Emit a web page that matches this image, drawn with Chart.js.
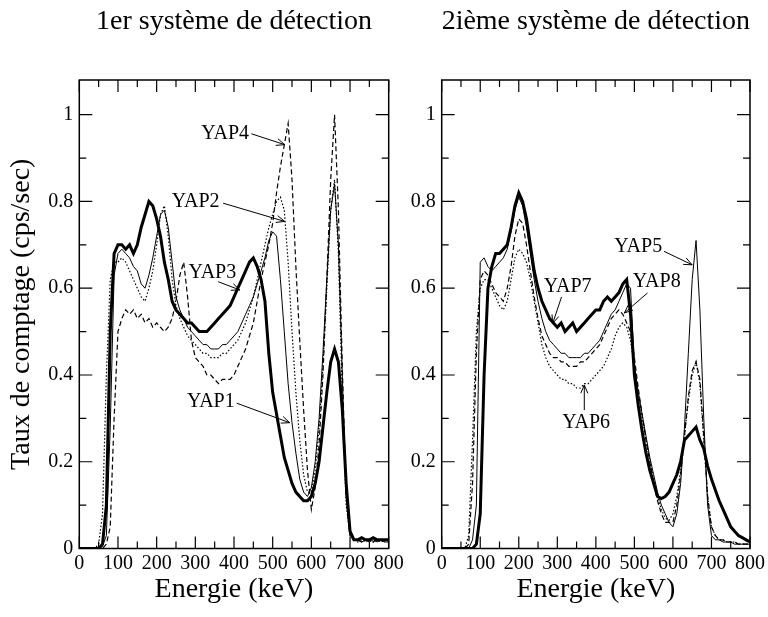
<!DOCTYPE html>
<html>
<head>
<meta charset="utf-8">
<script src="https://cdn.jsdelivr.net/npm/chart.js@4.4.1/dist/chart.umd.min.js"></script>
<style>
  body { margin: 0; background: #fff; }
  #wrap { position: relative; width: 768px; height: 617px; overflow: hidden; }
  #left { position: absolute; left: 0; top: 0; }
  #right { position: absolute; left: 400px; top: 0; }
</style>
</head>
<body>
<div id="wrap">
  <canvas id="left" width="420" height="617"></canvas>
  <canvas id="right" width="368" height="617"></canvas>
</div>
<script>
// Energie (keV), pas de 10 keV
const energies = [];
for (let e = 0; e <= 800; e += 10) energies.push(e);

const energyTicks = [0, 50, 100, 150, 200, 250, 300, 350, 400, 450, 500, 550, 600, 650, 700, 750, 800];
const countTicks = [0, 0.1, 0.2, 0.3, 0.4, 0.5, 0.6, 0.7, 0.8, 0.9, 1.0];

// 1er système de détection
const yap1 = [
  0, 0, 0, 0, 0, 0, 0.005, 0.03, 0.28, 0.63,
  0.68, 0.69, 0.68, 0.67, 0.65, 0.64, 0.61, 0.60, 0.63, 0.67,
  0.72, 0.77, 0.78, 0.74, 0.66, 0.58, 0.55, 0.53, 0.51, 0.50,
  0.49, 0.48, 0.47, 0.47, 0.46, 0.46, 0.46, 0.47, 0.47, 0.48,
  0.49, 0.50, 0.52, 0.54, 0.56, 0.58, 0.61, 0.64, 0.67, 0.71,
  0.73, 0.72, 0.62, 0.50, 0.38, 0.29, 0.22, 0.16, 0.13, 0.12,
  0.14, 0.20, 0.30, 0.45, 0.62, 0.78, 0.84, 0.70, 0.40, 0.12,
  0.03, 0.02, 0.02, 0.015, 0.02, 0.015, 0.02, 0.015, 0.02, 0.015,
  0.015
];
const yap2 = [
  0, 0, 0, 0, 0, 0.01, 0.08, 0.40, 0.62, 0.66,
  0.66, 0.67, 0.66, 0.64, 0.62, 0.60, 0.58, 0.57, 0.60, 0.64,
  0.70, 0.77, 0.79, 0.72, 0.62, 0.56, 0.53, 0.51, 0.49, 0.48,
  0.47, 0.46, 0.45, 0.45, 0.44, 0.44, 0.44, 0.45, 0.45, 0.46,
  0.47, 0.48, 0.50, 0.52, 0.55, 0.58, 0.62, 0.66, 0.70, 0.74,
  0.77, 0.80, 0.81, 0.78, 0.66, 0.50, 0.36, 0.25, 0.17, 0.13,
  0.13, 0.18, 0.28, 0.42, 0.60, 0.78, 0.85, 0.68, 0.35, 0.10,
  0.03, 0.02, 0.015, 0.02, 0.015, 0.02, 0.015, 0.02, 0.015, 0.02,
  0.015
];
const yap3 = [
  0, 0, 0, 0, 0, 0, 0.01, 0.10, 0.50, 0.68,
  0.70, 0.70, 0.69, 0.70, 0.68, 0.70, 0.74, 0.77, 0.80, 0.79,
  0.76, 0.72, 0.66, 0.62, 0.57, 0.55, 0.54, 0.53, 0.52, 0.52,
  0.51, 0.50, 0.50, 0.50, 0.51, 0.52, 0.53, 0.54, 0.55, 0.56,
  0.58, 0.60, 0.62, 0.64, 0.66, 0.67, 0.65, 0.62, 0.57, 0.45,
  0.36, 0.31, 0.26, 0.21, 0.18, 0.15, 0.13, 0.12, 0.11, 0.11,
  0.12, 0.15, 0.20, 0.28, 0.36, 0.43, 0.46, 0.43, 0.32, 0.15,
  0.04, 0.02, 0.02, 0.025, 0.02, 0.02, 0.025, 0.02, 0.02, 0.02,
  0.02
];
const yap4 = [
  0, 0, 0, 0, 0, 0, 0, 0.01, 0.05, 0.30,
  0.50, 0.53, 0.55, 0.54, 0.55, 0.53, 0.54, 0.52, 0.53, 0.51,
  0.52, 0.51, 0.50, 0.51, 0.53, 0.57, 0.63, 0.66, 0.58, 0.48,
  0.44, 0.43, 0.42, 0.40, 0.40, 0.39, 0.38, 0.39, 0.39, 0.39,
  0.40, 0.42, 0.44, 0.46, 0.49, 0.52, 0.57, 0.62, 0.66, 0.70,
  0.75, 0.82, 0.88, 0.93, 0.98, 0.85, 0.65, 0.48, 0.32, 0.18,
  0.09, 0.14, 0.24, 0.40, 0.62, 0.85, 1.00, 0.78, 0.42, 0.12,
  0.03, 0.02, 0.02, 0.015, 0.02, 0.02, 0.015, 0.02, 0.02, 0.015,
  0.015
];

// 2ième système de détection
const yap5 = [
  0, 0, 0, 0, 0, 0, 0, 0, 0.02, 0.10,
  0.66, 0.67, 0.65, 0.64, 0.65, 0.66, 0.67, 0.69, 0.73, 0.78,
  0.81, 0.79, 0.74, 0.68, 0.62, 0.57, 0.53, 0.50, 0.48, 0.47,
  0.46, 0.45, 0.45, 0.44, 0.44, 0.44, 0.44, 0.45, 0.45, 0.46,
  0.47, 0.48, 0.50, 0.52, 0.54, 0.55, 0.57, 0.59, 0.61, 0.60,
  0.42, 0.36, 0.31, 0.26, 0.21, 0.17, 0.13, 0.10, 0.08, 0.06,
  0.05, 0.08, 0.15, 0.28, 0.45, 0.62, 0.71, 0.55, 0.30, 0.10,
  0.03, 0.02, 0.02, 0.015, 0.015, 0.015, 0.01, 0.01, 0.01, 0.01,
  0.01
];
const yap6 = [
  0, 0, 0, 0, 0, 0, 0, 0.03, 0.25, 0.50,
  0.60, 0.62, 0.62, 0.60, 0.58, 0.56, 0.55, 0.57, 0.62, 0.67,
  0.69, 0.68, 0.66, 0.62, 0.57, 0.52, 0.47, 0.44, 0.42, 0.41,
  0.40, 0.39, 0.39, 0.38, 0.38, 0.37, 0.37, 0.38, 0.38, 0.39,
  0.40, 0.41, 0.42, 0.44, 0.46, 0.49, 0.51, 0.52, 0.51, 0.48,
  0.42, 0.36, 0.30, 0.25, 0.20, 0.16, 0.12, 0.09, 0.07, 0.065,
  0.08, 0.12, 0.18, 0.26, 0.34, 0.40, 0.43, 0.38, 0.25, 0.12,
  0.05, 0.03, 0.02, 0.02, 0.015, 0.015, 0.015, 0.01, 0.01, 0.01,
  0.01
];
const yap7 = [
  0, 0, 0, 0, 0, 0, 0, 0, 0, 0.01,
  0.08, 0.40, 0.60, 0.65, 0.68, 0.68, 0.69, 0.70, 0.74, 0.79,
  0.82, 0.80, 0.76, 0.70, 0.64, 0.60, 0.57, 0.55, 0.53, 0.52,
  0.51, 0.52, 0.50, 0.51, 0.52, 0.50, 0.51, 0.52, 0.53, 0.54,
  0.55, 0.55, 0.57, 0.58, 0.57, 0.58, 0.59, 0.61, 0.62, 0.54,
  0.40, 0.33, 0.27, 0.22, 0.18, 0.15, 0.12, 0.115, 0.12, 0.13,
  0.15, 0.17, 0.20, 0.25, 0.26, 0.27, 0.28, 0.25, 0.23, 0.19,
  0.16, 0.135, 0.11, 0.09, 0.07, 0.05, 0.04, 0.03, 0.025, 0.02,
  0.015
];
const yap8 = [
  0, 0, 0, 0, 0, 0, 0, 0.01, 0.15, 0.45,
  0.62, 0.64, 0.63, 0.61, 0.59, 0.58, 0.57, 0.60, 0.65, 0.72,
  0.76, 0.75, 0.70, 0.64, 0.58, 0.53, 0.49, 0.47, 0.45, 0.44,
  0.44, 0.43, 0.43, 0.42, 0.42, 0.42, 0.43, 0.43, 0.44, 0.45,
  0.46, 0.47, 0.49, 0.51, 0.53, 0.54, 0.55, 0.54, 0.52, 0.50,
  0.44, 0.37, 0.31, 0.25, 0.20, 0.15, 0.11, 0.08, 0.06, 0.06,
  0.06, 0.10, 0.17, 0.26, 0.35, 0.41, 0.43, 0.39, 0.26, 0.12,
  0.05, 0.03, 0.02, 0.02, 0.015, 0.015, 0.015, 0.01, 0.01, 0.01,
  0.01
];

const serif = "'Liberation Serif', 'Times New Roman', serif";

const styles = {
  thin:   { borderWidth: 1,   borderDash: [] },
  dotted: { borderWidth: 1.2, borderDash: [1.5, 2] },
  thick:  { borderWidth: 3,   borderDash: [] },
  dashed: { borderWidth: 1.2, borderDash: [5, 3] }
};

function serie(label, values, style) {
  return Object.assign({
    label: label,
    data: energies.map((e, i) => ({ x: e, y: values[i] })),
    borderColor: '#000',
    pointRadius: 0,
    tension: 0,
    fill: false
  }, styles[style]);
}

// étiquettes YAP avec flèches (coordonnées en keV / cps)
const leftNotes = [
  { text: 'YAP4', at: [377, 0.956], from: [445, 0.956], to: [531, 0.931] },
  { text: 'YAP2', at: [301, 0.800], from: [372, 0.796], to: [531, 0.754] },
  { text: 'YAP3', at: [344, 0.636], from: [359, 0.615], to: [415, 0.596] },
  { text: 'YAP1', at: [340, 0.339], from: [407, 0.335], to: [544, 0.290] }
];
const rightNotes = [
  { text: 'YAP5', at: [510, 0.696], from: [577, 0.685], to: [650, 0.654] },
  { text: 'YAP8', at: [558, 0.615], from: [534, 0.589], to: [474, 0.543] },
  { text: 'YAP7', at: [327, 0.604], from: [311, 0.580], to: [288, 0.519] },
  { text: 'YAP6', at: [375, 0.291], from: [370, 0.319], to: [370, 0.377] }
];

const framePlugin = {
  id: 'frameTicks',
  afterDraw(chart) {
    const { ctx, chartArea: a, scales: { x, y } } = chart;
    ctx.save();
    ctx.strokeStyle = '#000';
    ctx.lineWidth = 1.5;
    ctx.strokeRect(a.left, a.top, a.right - a.left, a.bottom - a.top);
    ctx.lineWidth = 1.2;
    ctx.beginPath();
    energyTicks.forEach(v => {
      const px = x.getPixelForValue(v);
      const len = v % 100 === 0 ? 12 : 7;
      ctx.moveTo(px, a.bottom); ctx.lineTo(px, a.bottom - len);
      ctx.moveTo(px, a.top); ctx.lineTo(px, a.top + len);
    });
    countTicks.forEach((v, i) => {
      const py = y.getPixelForValue(v);
      const len = i % 2 === 0 ? 13 : 7;
      ctx.moveTo(a.left, py); ctx.lineTo(a.left + len, py);
      ctx.moveTo(a.right, py); ctx.lineTo(a.right - len, py);
    });
    ctx.stroke();

    const notes = chart.options.plugins.frameTicks.notes;
    ctx.font = '20px ' + serif;
    ctx.fillStyle = '#000';
    ctx.textAlign = 'center';
    ctx.textBaseline = 'middle';
    ctx.lineWidth = 1;
    notes.forEach(n => {
      ctx.fillText(n.text, x.getPixelForValue(n.at[0]), y.getPixelForValue(n.at[1]));
      const x0 = x.getPixelForValue(n.from[0]), y0 = y.getPixelForValue(n.from[1]);
      const x1 = x.getPixelForValue(n.to[0]), y1 = y.getPixelForValue(n.to[1]);
      const ang = Math.atan2(y1 - y0, x1 - x0);
      ctx.beginPath();
      ctx.moveTo(x0, y0); ctx.lineTo(x1, y1);
      ctx.moveTo(x1 - 9 * Math.cos(ang - 0.4), y1 - 9 * Math.sin(ang - 0.4));
      ctx.lineTo(x1, y1);
      ctx.lineTo(x1 - 9 * Math.cos(ang + 0.4), y1 - 9 * Math.sin(ang + 0.4));
      ctx.stroke();
    });
    ctx.restore();
  }
};

function options(title, yTitle, yWidth, padRight, notes) {
  return {
    responsive: false,
    animation: false,
    layout: { padding: { top: 0, right: padRight, left: 0, bottom: 0 } },
    plugins: {
      legend: { display: false },
      tooltip: { enabled: false },
      title: {
        display: true, text: title, fullSize: false, color: '#000',
        font: { family: serif, size: 28, weight: 'normal', lineHeight: 1.2 },
        padding: { top: 5, bottom: 41.4 }
      },
      frameTicks: { notes: notes }
    },
    scales: {
      x: {
        type: 'linear', min: 0, max: 800,
        ticks: { stepSize: 100, padding: 3, maxRotation: 0, color: '#000', font: { family: serif, size: 20 } },
        grid: { display: false, drawTicks: false },
        border: { display: false },
        title: {
          display: true, text: 'Energie (keV)', color: '#000',
          font: { family: serif, size: 28, lineHeight: 1.2 },
          padding: { top: 0, bottom: 10.6 }
        },
        afterFit: s => { s.height = 68.5; }
      },
      y: {
        type: 'linear', min: 0, max: 1.08,
        ticks: {
          stepSize: 0.2, includeBounds: false, padding: 6, color: '#000',
          font: { family: serif, size: 20 },
          callback: v => String(+v.toFixed(1))
        },
        afterBuildTicks: s => { s.ticks = s.ticks.filter(t => t.value <= 1.0001); },
        grid: { display: false, drawTicks: false },
        border: { display: false },
        title: {
          display: yTitle !== '', text: yTitle, color: '#000',
          font: { family: serif, size: 28, lineHeight: 1.2 },
          padding: { top: 5, bottom: 0 }
        },
        afterFit: s => { s.width = yWidth; }
      }
    }
  };
}

new Chart(document.getElementById('left'), {
  type: 'line',
  data: {
    datasets: [
      serie('YAP1', yap1, 'thin'),
      serie('YAP2', yap2, 'dotted'),
      serie('YAP3', yap3, 'thick'),
      serie('YAP4', yap4, 'dashed')
    ]
  },
  options: options('1er système de détection', 'Taux de comptage (cps/sec)', 79.3, 31.3, leftNotes),
  plugins: [framePlugin]
});

new Chart(document.getElementById('right'), {
  type: 'line',
  data: {
    datasets: [
      serie('YAP5', yap5, 'thin'),
      serie('YAP6', yap6, 'dotted'),
      serie('YAP7', yap7, 'thick'),
      serie('YAP8', yap8, 'dashed')
    ]
  },
  options: options('2ième système de détection', '', 41.7, 16.7, rightNotes),
  plugins: [framePlugin]
});
</script>
</body>
</html>
